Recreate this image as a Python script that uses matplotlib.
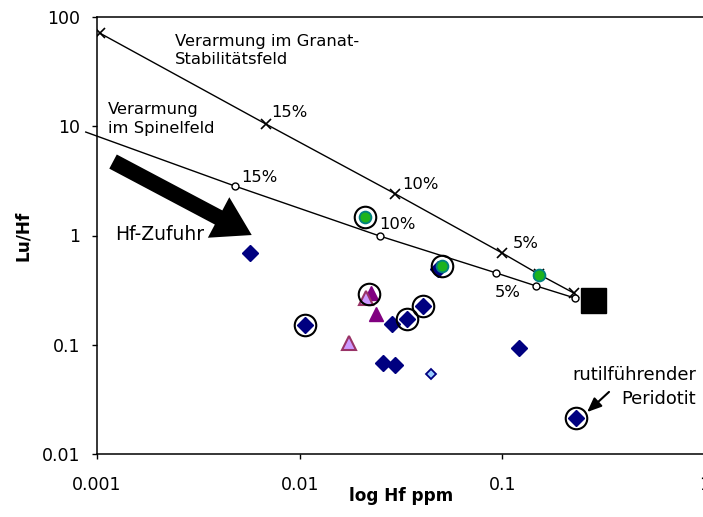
import matplotlib.pyplot as plt

plt.rcParams['font.family'] = 'DejaVu Sans'

# partial melting trends, marks every 5 % melting
garnet_hf = [0.00103, 0.0068, 0.0297, 0.100, 0.152, 0.227]
garnet_luhf = [71.4, 10.5, 2.40, 0.69, 0.44, 0.295]
spinel_hf = [0.00088, 0.00478, 0.0248, 0.0933, 0.147, 0.229]
spinel_luhf = [8.85, 2.84, 0.99, 0.454, 0.345, 0.267]
melt_labels = ['15%', '10%', '5%']

# starting composition
source_hf = [0.28]
source_luhf = [0.257]

# xenolith samples
diamond_hf = [0.00571, 0.0106, 0.0287, 0.0340, 0.0404, 0.0259, 0.0297, 0.121, 0.231, 0.0484]
diamond_luhf = [0.687, 0.152, 0.155, 0.172, 0.226, 0.068, 0.0654, 0.0933, 0.0215, 0.493]
light_diamond_hf = [0.0447]
light_diamond_luhf = [0.054]
triangle_hf = [0.0237, 0.0224]
triangle_luhf = [0.191, 0.298]
light_triangle_hf = [0.0213, 0.0176]
light_triangle_luhf = [0.268, 0.104]
green_hf = [0.0211, 0.0501, 0.152]
green_luhf = [1.48, 0.526, 0.435]
ringed_hf = [0.0211, 0.0501, 0.0221, 0.0106, 0.0340, 0.0404, 0.231]
ringed_luhf = [1.48, 0.526, 0.292, 0.152, 0.172, 0.226, 0.0215]

x_ticks = [0.001, 0.01, 0.1, 1]
x_ticklabels = ['0.001', '0.01', '0.1', '1']
y_ticks = [0.01, 0.1, 1, 10, 100]
y_ticklabels = ['0.01', '0.1', '1', '10', '100']

fig = plt.figure(figsize=(7.03, 5.17), dpi=100)
ax = fig.add_axes([97 / 703, 63 / 517, 608 / 703, 437 / 517])
ax.set_xscale('log')
ax.set_yscale('log')
ax.set_xlim(0.001, 1)
ax.set_ylim(0.01, 100)

# model curves
ax.plot(garnet_hf, garnet_luhf, color='black', lw=1.0, marker='x', ms=7, mew=1.2, zorder=3)
ax.plot(spinel_hf, spinel_luhf, color='black', lw=1.0, zorder=3, clip_on=False)
ax.plot(spinel_hf[1:], spinel_luhf[1:], ls='none', marker='o', ms=5, mfc='white',
        mec='black', mew=1.0, zorder=4)

garnet_offsets = [(4.3, 5), (5, 3.6), (7.2, 3.6)]
spinel_offsets = [(5, 2.9), (0, 5), (-1.4, -17.3)]
for i, lab in enumerate(melt_labels):
    ax.annotate(lab, (garnet_hf[i + 1], garnet_luhf[i + 1]), xytext=garnet_offsets[i],
                textcoords='offset points', fontsize=11.8, ha='left', va='baseline')
    ax.annotate(lab, (spinel_hf[i + 1], spinel_luhf[i + 1]), xytext=spinel_offsets[i],
                textcoords='offset points', fontsize=11.8, ha='left', va='baseline')

ax.plot(source_hf, source_luhf, ls='none', marker='s', ms=18, color='black', zorder=5)

# samples
ax.plot(diamond_hf[::-1], diamond_luhf[::-1], ls='none', marker='D', ms=8, mfc='#000080',
        mec='#000080', zorder=6)
ax.plot(light_diamond_hf, light_diamond_luhf, ls='none', marker='D', ms=5.5, mfc='#99CCFF',
        mec='#000080', mew=1.3, zorder=6)
ax.plot(triangle_hf, triangle_luhf, ls='none', marker='^', ms=9.4, mfc='#800080',
        mec='#800080', zorder=6)
ax.plot(light_triangle_hf, light_triangle_luhf, ls='none', marker='^', ms=9.4, mfc='#CC99FF',
        mec='#993366', mew=1.5, zorder=7)
ax.plot(green_hf, green_luhf, ls='none', marker='o', ms=8.5, mfc='#1DB31D',
        mec='#008080', mew=1.3, zorder=8)
ax.plot(ringed_hf, ringed_luhf, ls='none', marker='o', ms=15.5, mfc='none',
        mec='black', mew=1.5, zorder=9)

# text annotations
ax.text(0.00242, 69.2, 'Verarmung im Granat-\nStabilitätsfeld', fontsize=11.8,
        ha='left', va='top', linespacing=1.25)
ax.text(0.001136, 16.5, 'Verarmung\nim Spinelfeld', fontsize=11.8,
        ha='left', va='top', linespacing=1.32)
ax.text(0.00123, 0.91, 'Hf-Zufuhr', fontsize=13.5, ha='left', va='baseline')
ax.annotate('', xy=(0.0058, 1.01), xytext=(0.00120, 4.75),
            arrowprops=dict(arrowstyle='simple,head_length=2.7,head_width=3.3,tail_width=1.15',
                            mutation_scale=10, fc='black', ec='black', lw=0,
                            shrinkA=0, shrinkB=0))
ax.text(0.905, 0.064, 'rutilführender\nPeridotit', fontsize=12.9, ha='right', va='top',
        linespacing=1.45, multialignment='right')
ax.annotate('', xy=(0.262, 0.0242), xytext=(0.336, 0.037),
            arrowprops=dict(arrowstyle='-|>,head_length=8.6,head_width=3.6',
                            mutation_scale=1, fc='black', ec='black', lw=1.5,
                            shrinkA=0, shrinkB=0))

# axes styling
ax.set_xticks(x_ticks, x_ticklabels)
ax.set_yticks(y_ticks, y_ticklabels)
ax.minorticks_off()
ax.tick_params(axis='both', direction='out', length=3.6, width=1.0, labelsize=12.5)
ax.tick_params(axis='x', pad=12.5)
ax.tick_params(axis='y', pad=8.6)
for side in ['left', 'bottom', 'top', 'right']:
    ax.spines[side].set_linewidth(1.1)

ax.set_xlabel('log Hf ppm', fontsize=12.2, fontweight='bold')
ax.set_ylabel('Lu/Hf', fontsize=12.2, fontweight='bold')
ax.xaxis.set_label_coords(0.5, -0.0755)
ax.yaxis.set_label_coords(-0.107, 0.5)

fig.savefig('out.png', dpi=100)
